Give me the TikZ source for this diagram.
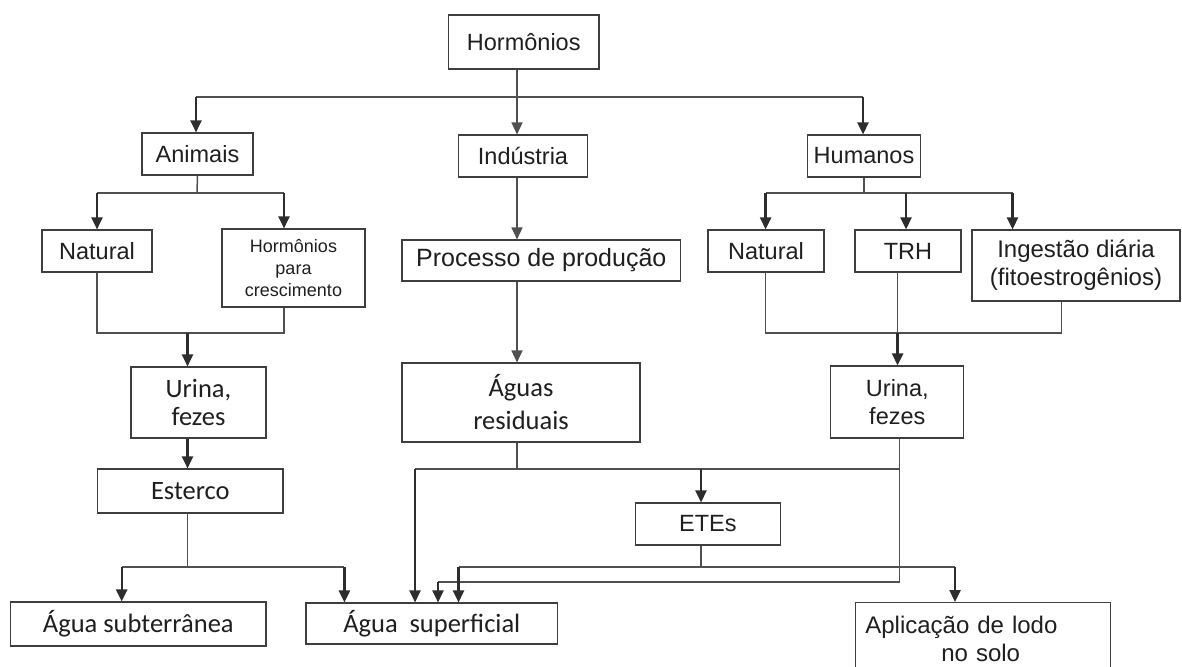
\documentclass[tikz,border=0pt]{standalone}
\usepackage{fontspec}
\setmainfont{Liberation Sans}
\newfontfamily\calibrifont{Carlito}
\usetikzlibrary{arrows.meta}
\definecolor{cLine}{RGB}{80,80,80}
\definecolor{cArrow}{RGB}{45,45,45}
\definecolor{cBox}{RGB}{62,62,62}
\tikzset{
	box/.style ={rectangle, draw=cBox, line width=1.1pt, inner sep=2pt, align=center, text=black!88, font=\fontsize{23.5}{28}\selectfont},
	cbox/.style={box, font=\calibrifont\fontsize{26.5}{28}\selectfont},
	wire/.style={draw=cLine, line width=1.5pt},
	flow/.style={wire, -{Triangle[length=12pt, width=11pt]}},
	sig/.style ={draw=cArrow, line width=2.4pt, -{Triangle[length=12pt, width=11pt]}},
}
\begin{document}
\begin{tikzpicture}[x=1pt, y=-1pt]
	\useasboundingbox[fill=white] (0,0) rectangle (1182,666);
	% boxes
	\node[box, minimum width=150.5pt, minimum height=54pt] (horm) at (523.75,42) {Hormônios};
	\node[box, minimum width=111pt, minimum height=42pt] (anim) at (197.5,154) {Animais};
	\node[box, minimum width=129pt, minimum height=42pt] (indu) at (523,156) {Indústria};
	\node[box, minimum width=113pt, minimum height=42pt] (huma) at (864,156) {Humanos};
	\node[box, minimum width=110pt, minimum height=42pt] (natA) at (97,251) {Natural};
	\node[box, minimum width=143pt, minimum height=78pt, font=\fontsize{18}{21.7}\selectfont] (hcre) at (293.5,268) {Hormônios\\ para\\ crescimento};
	\node[box, minimum width=278.6pt, minimum height=41pt, font=\fontsize{25}{28}\selectfont] (proc) at (541.3,260.5) {Processo de produção};
	\node[box, minimum width=116pt, minimum height=42pt] (natH) at (766,251) {Natural};
	\node[box, minimum width=106pt, minimum height=42pt] (trh) at (908,251) {TRH};
	\node[box, minimum width=208pt, minimum height=71pt, font=\fontsize{24}{28}\selectfont] (inge) at (1076,265.5) {Ingestão diária\\ (fitoestrogênios)};
	\node[cbox, minimum width=135pt, minimum height=71pt] (uriA) at (198.5,402.5) {Urina,\\ fezes};
	\node[cbox, minimum width=238pt, minimum height=79pt, font=\calibrifont\fontsize{26.5}{33}\selectfont] (agres) at (521,402.5) {Águas\\ residuais};
	\node[box, minimum width=133pt, minimum height=72pt] (uriH) at (897.3,402) {Urina,\\ fezes};
	\node[cbox, minimum width=185.4pt, minimum height=44pt] (ester) at (190.3,491) {Esterco};
	\node[box, minimum width=144.5pt, minimum height=42pt] (etes) at (707.8,524) {ETEs};
	\node[cbox, minimum width=255.3pt, minimum height=44pt] (asub) at (138.3,624) {Água subterrânea};
	\node[cbox, minimum width=251.6pt, minimum height=41pt] (asup) at (431.8,623.5) {Água\hspace{0.45em}superficial};
	\node[box, anchor=north west, align=left, text width=235pt, inner xsep=10pt, minimum height=72pt, font=\fontsize{24}{28}\selectfont] (aplic) at (854.8,602) {Aplicação de lodo\\ \hspace*{76pt}no solo};
	% junctions
	\coordinate (bus0) at (517,97);
	\coordinate (busL) at (196,97);
	\coordinate (busR) at (863,97);
	\coordinate (aFork) at (197,193);
	\coordinate (aL) at (97,193);
	\coordinate (aR) at (284,193);
	\coordinate (aJoin) at (187.5,333);
	\coordinate (eFork) at (187.5,567);
	\coordinate (eL) at (121.7,567);
	\coordinate (eR) at (344.4,567);
	\coordinate (hFork) at (864,193);
	\coordinate (hL) at (765.6,193);
	\coordinate (hM) at (906,193);
	\coordinate (hR) at (1012.5,193);
	\coordinate (hJoin) at (897.6,333);
	\coordinate (hJR) at (1061.5,333);
	\coordinate (wFork) at (517,469);
	\coordinate (wL) at (415,469);
	\coordinate (wE) at (701,469);
	\coordinate (wR) at (899.6,469);
	\coordinate (uDrop) at (438,582);
	\coordinate (sFork) at (701,567);
	\coordinate (sL) at (458.5,567);
	\coordinate (sR) at (955,567);
	% Hormônios -> origens
	\draw[wire] (horm.south -| bus0) -- (bus0);
	\draw[wire] (busL) -- (busR);
	\draw[sig] (busL) -- (busL |- anim.north);
	\draw[flow] (bus0) -- (bus0 |- indu.north);
	\draw[sig] (busR) -- (busR |- huma.north);
	% Animais
	\draw[wire] (anim.south) -- (aFork);
	\draw[wire] (aL) -- (aR);
	\draw[sig] (aL) -- (aL |- natA.north);
	\draw[sig] (aR) -- (aR |- hcre.north);
	\draw[wire] (aL |- natA.south) |- (aR |- aJoin) -- (aR |- hcre.south);
	\draw[sig] (aJoin) -- (aJoin |- uriA.north);
	\draw[sig] (aJoin |- uriA.south) -- (aJoin |- ester.north);
	\draw[wire] (aJoin |- ester.south) -- (eFork);
	\draw[wire] (eL) -- (eR);
	\draw[sig] (eL) -- (eL |- asub.north);
	\draw[sig] (eR) -- (eR |- asup.north);
	% Indústria
	\draw[flow] (bus0 |- indu.south) -- (bus0 |- proc.north);
	\draw[flow] (bus0 |- proc.south) -- (bus0 |- agres.north);
	% Humanos
	\draw[wire] (huma.south) -- (hFork);
	\draw[wire] (hL) -- (hR);
	\draw[sig] (hL) -- (hL |- natH.north);
	\draw[sig] (hM) -- (hM |- trh.north);
	\draw[sig] (hR) -- (hR |- inge.north);
	\draw[wire] (hL |- natH.south) |- (hJR) -- (hJR |- inge.south);
	\draw[wire] (hJoin |- trh.south) -- (hJoin);
	\draw[sig] (hJoin) -- (hJoin |- uriH.north);
	% destinos
	\draw[wire] (wFork |- agres.south) -- (wFork);
	\draw[wire] (wL) -- (wR);
	\draw[wire] (wR |- uriH.south) |- (uDrop);
	\draw[sig] (wL) -- (wL |- asup.north);
	\draw[sig] (wE) -- (wE |- etes.north);
	\draw[sig] (uDrop) -- (uDrop |- asup.north);
	\draw[wire] (sFork |- etes.south) -- (sFork);
	\draw[wire] (sL) -- (sR);
	\draw[sig] (sL) -- (sL |- asup.north);
	\draw[sig] (sR) -- (sR |- aplic.north);
\end{tikzpicture}
\end{document}
